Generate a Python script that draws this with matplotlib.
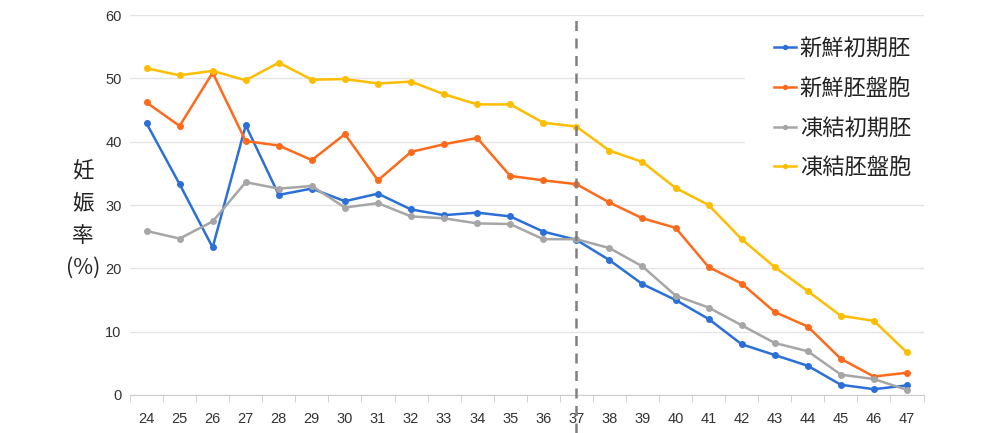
#!/usr/bin/env python3
"""Pregnancy rate by age, fresh/frozen x early embryo/blastocyst."""

import matplotlib

matplotlib.use("Agg")
import matplotlib.pyplot as plt
from matplotlib.patches import Rectangle

JP = ["Noto Sans CJK JP", "DejaVu Sans"]

ages = [str(a) for a in range(24, 48)]
fresh_early = [42.9, 33.3, 23.3, 42.6, 31.6, 32.6, 30.6, 31.8, 29.3, 28.4, 28.8, 28.2,
               25.8, 24.5, 21.3, 17.5, 15.0, 12.0, 8.0, 6.3, 4.6, 1.6, 0.9, 1.5]
fresh_blast = [46.2, 42.5, 50.9, 40.1, 39.4, 37.1, 41.2, 33.9, 38.4, 39.6, 40.6, 34.6,
               33.9, 33.3, 30.4, 27.9, 26.4, 20.2, 17.6, 13.1, 10.8, 5.7, 2.9, 3.5]
frozen_early = [25.9, 24.7, 27.4, 33.6, 32.6, 33.0, 29.6, 30.3, 28.2, 27.9, 27.1, 27.0,
                24.6, 24.6, 23.2, 20.3, 15.7, 13.8, 11.0, 8.2, 6.9, 3.2, 2.5, 0.8]
frozen_blast = [51.6, 50.5, 51.2, 49.7, 52.5, 49.8, 49.9, 49.2, 49.5, 47.5, 45.9, 45.9,
                43.0, 42.4, 38.6, 36.8, 32.7, 30.0, 24.6, 20.2, 16.4, 12.5, 11.7, 6.7]

series = [
    ("新鮮初期胚", fresh_early, "#2b6fd8"),
    ("新鮮胚盤胞", fresh_blast, "#fd6a1c"),
    ("凍結初期胚", frozen_early, "#a6a6a6"),
    ("凍結胚盤胞", frozen_blast, "#fdbd00"),
]
marker_age = "37"


def main() -> int:
    fig = plt.figure(figsize=(10, 4.33), dpi=100)
    ax = fig.add_axes([0.13, 0.088, 0.7935, 0.877])
    x = list(range(len(ages)))

    ax.set_axisbelow(True)
    ax.yaxis.grid(True, color="#e4e4e4", lw=1)
    # legend background hides the grid behind it
    ax.add_patch(Rectangle((0.775, 0.58), 0.3, 0.38, transform=ax.transAxes,
                           facecolor="white", edgecolor="none", zorder=1))

    for name, vals, color in series:
        ax.plot(x, vals, color=color, lw=1.8, marker="o", ms=4, label=name, zorder=3)

    ax.axvline(ages.index(marker_age), ymin=-0.1, ymax=1.0, color="#7f7f7f", lw=1.8,
               ls=(0, (4, 3)), clip_on=False, zorder=4)

    ax.set_xlim(-0.5, len(ages) - 0.5)
    ax.set_ylim(0, 60)
    ax.set_yticks(range(0, 61, 10))
    ax.set_xticks(x)
    ax.set_xticklabels(ages)
    ax.set_xticks([i - 0.5 for i in range(len(ages) + 1)], minor=True)
    ax.tick_params(axis="x", which="major", length=0, pad=12, labelsize=10.5,
                   labelcolor="#333333")
    ax.tick_params(axis="x", which="minor", length=5, color="#cccccc")
    ax.tick_params(axis="y", length=0, pad=6, labelsize=10.5, labelcolor="#333333")
    for lab in ax.get_xticklabels() + ax.get_yticklabels():
        lab.set_fontfamily("Liberation Sans")

    for side in ("top", "right", "left"):
        ax.spines[side].set_visible(False)
    ax.spines["bottom"].set_color("#cccccc")

    fig.text(0.083, 0.493, "妊\n娠\n率\n(%)", family=JP, fontsize=15.5, ha="center",
             va="center", linespacing=1.6, color="#222222")

    leg = ax.legend(loc="upper left", bbox_to_anchor=(0.763, 0.94),
                    bbox_transform=fig.transFigure, frameon=False,
                    prop={"family": JP, "size": 16}, handlelength=1.0,
                    handletextpad=0.15, labelspacing=0.75, borderpad=0,
                    markerscale=0.7)
    for t in leg.get_texts():
        t.set_color("#222222")

    fig.savefig("out.png", dpi=100)
    plt.close(fig)
    return 0


if __name__ == "__main__":
    raise SystemExit(main())
